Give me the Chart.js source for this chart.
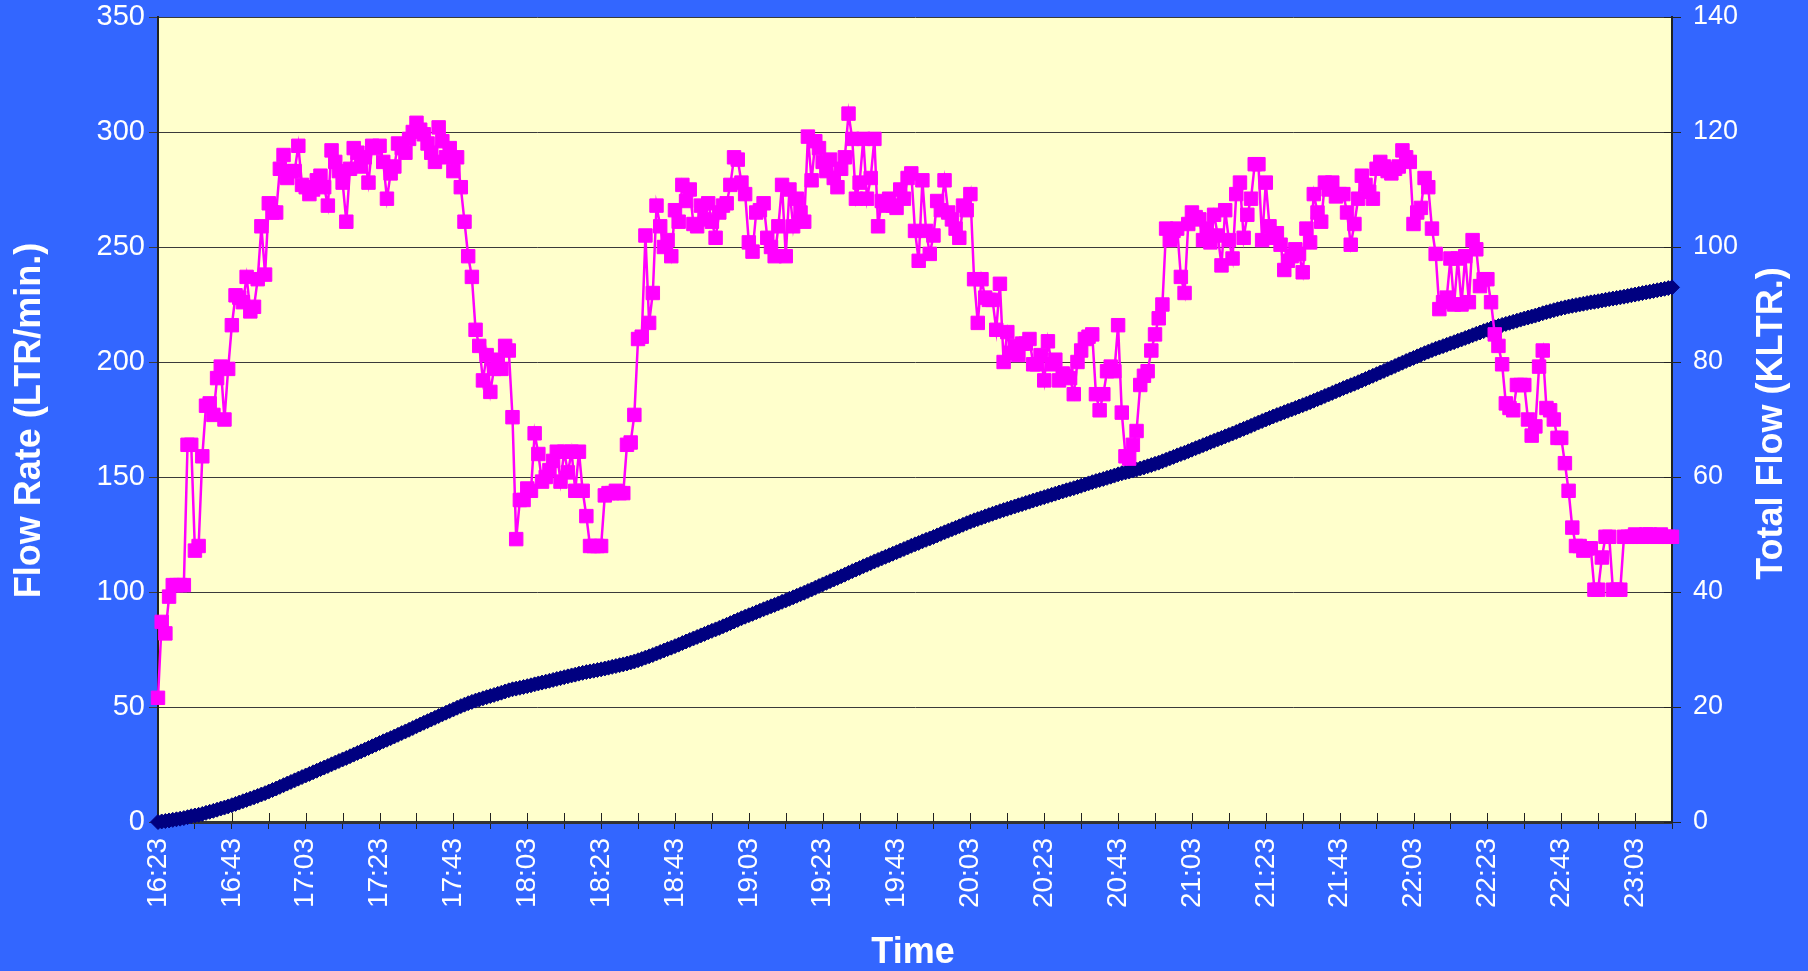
<!DOCTYPE html>
<html>
<head>
<meta charset="utf-8">
<script src="https://cdn.jsdelivr.net/npm/chart.js@4.4.1/dist/chart.umd.min.js"></script>
<style>
  html, body { margin: 0; padding: 0; background: #3366FF; }
  #wrap { width: 1808px; height: 971px; }
</style>
</head>
<body>
<div id="wrap"><canvas id="c" width="1808" height="971"></canvas></div>
<script>
// ---------------- DATA ----------------
const startTime = '16:23';   // first category (one reading per minute)
const tickLabels = ['16:23','16:43','17:03','17:23','17:43','18:03','18:23','18:43','19:03','19:23','19:43',
  '20:03','20:23','20:43','21:03','21:23','21:43','22:03','22:23','22:43','23:03'];

// Flow Rate (LTR/min.) – left axis
const flowRate = [
  54, 87, 82, 98, 103, 103, 103, 103, 164, 164,
  118, 120, 159, 181, 182, 177, 193, 198, 175, 197,
  216, 229, 228, 226, 237, 222, 224, 236, 259, 238,
  269, 265, 265, 284, 290, 280, 283, 283, 294, 277,
  276, 273, 275, 279, 281, 276, 268, 292, 287, 283,
  278, 261, 284, 293, 291, 285, 289, 278, 294, 293,
  294, 287, 271, 282, 285, 295, 293, 291, 297, 300,
  304, 301, 299, 295, 291, 287, 302, 296, 289, 293,
  283, 289, 276, 261, 246, 237, 214, 207, 192, 203,
  187, 197, 201, 197, 207, 205, 176, 123, 140, 140,
  145, 144, 169, 160, 148, 150, 153, 157, 161, 148,
  161, 152, 161, 144, 161, 144, 133, 120, 120, 120,
  120, 142, 143, 143, 144, 143, 143, 164, 165, 177,
  210, 211, 255, 217, 230, 268, 259, 250, 253, 246,
  266, 261, 277, 270, 275, 260, 259, 268, 262, 269,
  261, 254, 265, 268, 269, 277, 289, 288, 278, 273,
  252, 248, 265, 266, 269, 254, 250, 246, 259, 277,
  246, 275, 259, 271, 265, 261, 298, 279, 296, 293,
  287, 283, 288, 280, 276, 284, 289, 308, 297, 271,
  278, 297, 271, 280, 297, 259, 270, 268, 271, 268,
  267, 275, 271, 280, 282, 257, 244, 279, 257, 247,
  255, 270, 266, 279, 265, 262, 258, 254, 268, 266,
  273, 236, 217, 236, 228, 227, 227, 214, 234, 200,
  213, 204, 207, 203, 208, 208, 210, 199, 199, 203,
  192, 209, 199, 201, 192, 195, 194, 193, 186, 200,
  205, 210, 211, 212, 186, 179, 186, 196, 198, 196,
  216, 178, 159, 158, 164, 170, 190, 194, 196, 205,
  212, 219, 225, 258, 253, 257, 258, 237, 230, 260,
  265, 263, 262, 253, 258, 252, 264, 255, 242, 266,
  253, 245, 273, 278, 254, 264, 271, 286, 286, 253,
  278, 259, 254, 256, 251, 240, 244, 246, 249, 247,
  239, 258, 252, 273, 265, 261, 278, 275, 278, 272,
  273, 273, 265, 251, 260, 271, 281, 277, 274, 271,
  284, 287, 285, 283, 282, 284, 285, 292, 289, 287,
  260, 265, 267, 280, 276, 258, 247, 223, 226, 228,
  245, 225, 245, 225, 246, 226, 253, 249, 233, 236,
  236, 226, 212, 207, 199, 182, 180, 179, 190, 190,
  190, 175, 168, 172, 198, 205, 180, 179, 175, 167,
  167, 156, 144, 128, 120, 120, 118, 119, 119, 101,
  101, 115, 124, 124, 101, 101, 101, 124, 124, 124,
  125, 124, 124, 125, 125, 124, 124, 125, 124, 124, 124
];

// Total Flow (KLTR.) – right axis
const totalFlow = [
  0.00, 0.09, 0.17, 0.27, 0.37, 0.47, 0.58, 0.68, 0.84, 1.01,
  1.13, 1.25, 1.40, 1.59, 1.77, 1.94, 2.14, 2.34, 2.51, 2.71,
  2.92, 3.15, 3.38, 3.61, 3.84, 4.07, 4.29, 4.53, 4.78, 5.02,
  5.29, 5.56, 5.82, 6.11, 6.40, 6.68, 6.96, 7.24, 7.54, 7.81,
  8.09, 8.36, 8.64, 8.92, 9.20, 9.47, 9.74, 10.03, 10.32, 10.60,
  10.88, 11.14, 11.43, 11.72, 12.01, 12.29, 12.58, 12.86, 13.16, 13.45,
  13.74, 14.03, 14.30, 14.58, 14.87, 15.16, 15.46, 15.75, 16.04, 16.34,
  16.65, 16.95, 17.25, 17.54, 17.83, 18.12, 18.42, 18.72, 19.01, 19.30,
  19.58, 19.87, 20.15, 20.41, 20.66, 20.89, 21.11, 21.31, 21.51, 21.71,
  21.90, 22.09, 22.29, 22.49, 22.70, 22.90, 23.08, 23.20, 23.34, 23.48,
  23.63, 23.77, 23.94, 24.10, 24.25, 24.40, 24.55, 24.71, 24.87, 25.02,
  25.18, 25.33, 25.49, 25.63, 25.80, 25.94, 26.07, 26.19, 26.31, 26.43,
  26.55, 26.69, 26.84, 26.98, 27.12, 27.27, 27.41, 27.57, 27.74, 27.92,
  28.13, 28.34, 28.59, 28.81, 29.04, 29.31, 29.57, 29.82, 30.07, 30.32,
  30.58, 30.84, 31.12, 31.39, 31.66, 31.92, 32.18, 32.45, 32.71, 32.98,
  33.24, 33.50, 33.76, 34.03, 34.30, 34.58, 34.87, 35.15, 35.43, 35.70,
  35.96, 36.20, 36.47, 36.74, 37.00, 37.26, 37.51, 37.75, 38.01, 38.29,
  38.54, 38.81, 39.07, 39.34, 39.61, 39.87, 40.17, 40.44, 40.74, 41.03,
  41.32, 41.60, 41.89, 42.17, 42.45, 42.73, 43.02, 43.33, 43.63, 43.90,
  44.17, 44.47, 44.74, 45.02, 45.32, 45.58, 45.85, 46.12, 46.39, 46.66,
  46.92, 47.20, 47.47, 47.75, 48.03, 48.29, 48.53, 48.81, 49.07, 49.31,
  49.57, 49.84, 50.11, 50.38, 50.65, 50.91, 51.17, 51.42, 51.69, 51.96,
  52.23, 52.47, 52.68, 52.92, 53.15, 53.37, 53.60, 53.82, 54.05, 54.25,
  54.46, 54.67, 54.87, 55.08, 55.28, 55.49, 55.70, 55.90, 56.10, 56.30,
  56.50, 56.70, 56.90, 57.10, 57.30, 57.49, 57.69, 57.88, 58.06, 58.26,
  58.47, 58.68, 58.89, 59.10, 59.29, 59.47, 59.65, 59.85, 60.05, 60.24,
  60.46, 60.64, 60.80, 60.95, 61.12, 61.29, 61.48, 61.67, 61.87, 62.07,
  62.29, 62.50, 62.73, 62.99, 63.24, 63.50, 63.76, 63.99, 64.22, 64.48,
  64.75, 65.01, 65.27, 65.53, 65.78, 66.04, 66.30, 66.55, 66.80, 67.06,
  67.32, 67.56, 67.83, 68.11, 68.37, 68.63, 68.90, 69.19, 69.47, 69.73,
  70.00, 70.26, 70.52, 70.77, 71.02, 71.26, 71.51, 71.75, 72.00, 72.25,
  72.49, 72.75, 73.00, 73.27, 73.54, 73.80, 74.08, 74.35, 74.63, 74.90,
  75.17, 75.45, 75.71, 75.96, 76.22, 76.49, 76.77, 77.05, 77.33, 77.60,
  77.88, 78.17, 78.45, 78.74, 79.02, 79.30, 79.59, 79.88, 80.17, 80.45,
  80.71, 80.98, 81.25, 81.53, 81.80, 82.06, 82.31, 82.53, 82.76, 82.98,
  83.23, 83.45, 83.70, 83.92, 84.17, 84.40, 84.65, 84.90, 85.13, 85.37,
  85.60, 85.83, 86.04, 86.25, 86.45, 86.63, 86.81, 86.99, 87.18, 87.37,
  87.56, 87.73, 87.90, 88.07, 88.27, 88.48, 88.66, 88.84, 89.01, 89.18,
  89.34, 89.50, 89.64, 89.77, 89.89, 90.01, 90.13, 90.25, 90.37, 90.47,
  90.57, 90.69, 90.81, 90.93, 91.03, 91.14, 91.24, 91.36, 91.48, 91.61,
  91.73, 91.86, 91.98, 92.11, 92.23, 92.36, 92.48, 92.60, 92.73, 92.85, 92.98
];

// minute-by-minute category labels starting at startTime
const categories = (() => {
  const [h0, m0] = startTime.split(':').map(Number);
  return flowRate.map((_, i) => {
    const t = h0 * 60 + m0 + i;
    return Math.floor(t / 60) + ':' + String(t % 60).padStart(2, '0');
  });
})();

// ---------------- STYLE ----------------
const FONT = '"Liberation Sans", Arial, Helvetica, sans-serif';
const BG = '#3366FF';
const PLOT_BG = '#FFFFCC';
const AXIS_DARK = '#222222';

function noPad(s) { s.paddingTop = 0; s.paddingBottom = 0; }

const decor = {
  id: 'decor',
  beforeDraw(chart) {
    const { ctx, chartArea: a } = chart;
    ctx.save();
    ctx.fillStyle = BG;
    ctx.fillRect(0, 0, chart.width, chart.height);
    ctx.fillStyle = PLOT_BG;
    ctx.fillRect(a.left, a.top, a.right - a.left, a.bottom - a.top);
    ctx.restore();
  },
  beforeDatasetsDraw(chart) {
    const { ctx, chartArea: a, scales } = chart;
    ctx.save();
    ctx.strokeStyle = AXIS_DARK;
    ctx.lineWidth = 1;
    ctx.beginPath();
    scales.x.ticks.forEach((t, i) => {
      if (i % 10 !== 0) return;
      const px = Math.round(scales.x.getPixelForTick(i)) + 0.5;
      ctx.moveTo(px, a.bottom);
      ctx.lineTo(px, a.bottom - 9);
    });
    scales.yR.ticks.forEach((t) => {
      const py = Math.round(scales.yR.getPixelForValue(t.value)) + 0.5;
      ctx.moveTo(a.right - 8, py);
      ctx.lineTo(a.right, py);
    });
    ctx.stroke();
    ctx.restore();
  },
  afterDraw(chart) {
    const { ctx, chartArea: a } = chart;
    const cy = (a.top + a.bottom) / 2;
    ctx.save();
    ctx.fillStyle = '#FFFFFF';
    ctx.font = 'bold 36px ' + FONT;
    ctx.textAlign = 'center';
    ctx.textBaseline = 'middle';
    // left title
    ctx.save();
    ctx.translate(a.left - 128, cy + 1);
    ctx.rotate(-Math.PI / 2);
    ctx.fillText('Flow Rate (LTR/min.)', 0, 0);
    ctx.restore();
    // right title
    ctx.save();
    ctx.translate(a.right + 100, cy + 4);
    ctx.rotate(-Math.PI / 2);
    ctx.fillText('Total Flow (KLTR.)', 0, 0);
    ctx.restore();
    // x title
    ctx.fillText('Time', (a.left + a.right) / 2 - 2, a.bottom + 131);
    ctx.restore();
  }
};

new Chart(document.getElementById('c'), {
  type: 'line',
  data: {
    labels: categories,
    datasets: [
      {
        label: 'Flow Rate',
        data: flowRate,
        yAxisID: 'yL',
        borderColor: '#FF00FF',
        backgroundColor: '#FF00FF',
        borderWidth: 2.5,
        pointStyle: 'rect',
        pointRadius: 9.5,
        pointBorderWidth: 1,
        pointBorderColor: '#FF00FF',
        pointBackgroundColor: '#FF00FF',
        tension: 0,
        clip: false,
        order: 0
      },
      {
        label: 'Total Flow',
        data: totalFlow,
        yAxisID: 'yR',
        borderColor: '#000080',
        backgroundColor: '#000080',
        borderWidth: 3,
        pointStyle: 'rectRot',
        pointRadius: 7.5,
        pointBorderWidth: 1,
        pointBorderColor: '#000080',
        pointBackgroundColor: '#000080',
        tension: 0,
        clip: false,
        order: 1
      }
    ]
  },
  options: {
    responsive: false,
    devicePixelRatio: 1,
    animation: false,
    events: [],
    layout: { padding: { top: 17, left: 0, right: 0, bottom: 0 } },
    plugins: { legend: { display: false }, tooltip: { enabled: false }, title: { display: false } },
    scales: {
      x: {
        type: 'category',
        offset: false,
        afterFit(s) { s.height = 149; s.paddingLeft = 0; s.paddingRight = 0; },
        grid: {
          display: true,
          drawOnChartArea: false,
          drawTicks: true,
          tickLength: 7,
          lineWidth: 1,
          color: (c) => (c.index % 10 === 0 ? AXIS_DARK : 'rgba(0,0,0,0)')
        },
        border: { display: true, color: '#333333', width: 3 },
        ticks: {
          autoSkip: false,
          maxRotation: 90,
          minRotation: 90,
          padding: 9,
          color: '#FFFFFF',
          font: { family: FONT, size: 28 },
          callback(v, i) { const l = categories[i]; return tickLabels.includes(l) ? l : ''; }
        }
      },
      yL: {
        type: 'linear',
        position: 'left',
        min: 0, max: 350,
        afterFit(s) { s.width = 158; noPad(s); },
        grid: { display: true, color: '#3a3a3a', lineWidth: 1, drawTicks: true, tickLength: 9 },
        border: { display: true, color: AXIS_DARK, width: 2 },
        ticks: { stepSize: 50, padding: 4, color: '#FFFFFF', font: { family: FONT, size: 29 } }
      },
      yR: {
        type: 'linear',
        position: 'right',
        min: 0, max: 140,
        afterFit(s) { s.width = 136; noPad(s); },
        grid: { display: true, drawOnChartArea: false, color: AXIS_DARK, lineWidth: 1, drawTicks: true, tickLength: 9 },
        border: { display: true, color: AXIS_DARK, width: 2 },
        ticks: { stepSize: 20, padding: 12, color: '#FFFFFF', font: { family: FONT, size: 27 } }
      }
    }
  },
  plugins: [decor]
});
</script>
</body>
</html>
